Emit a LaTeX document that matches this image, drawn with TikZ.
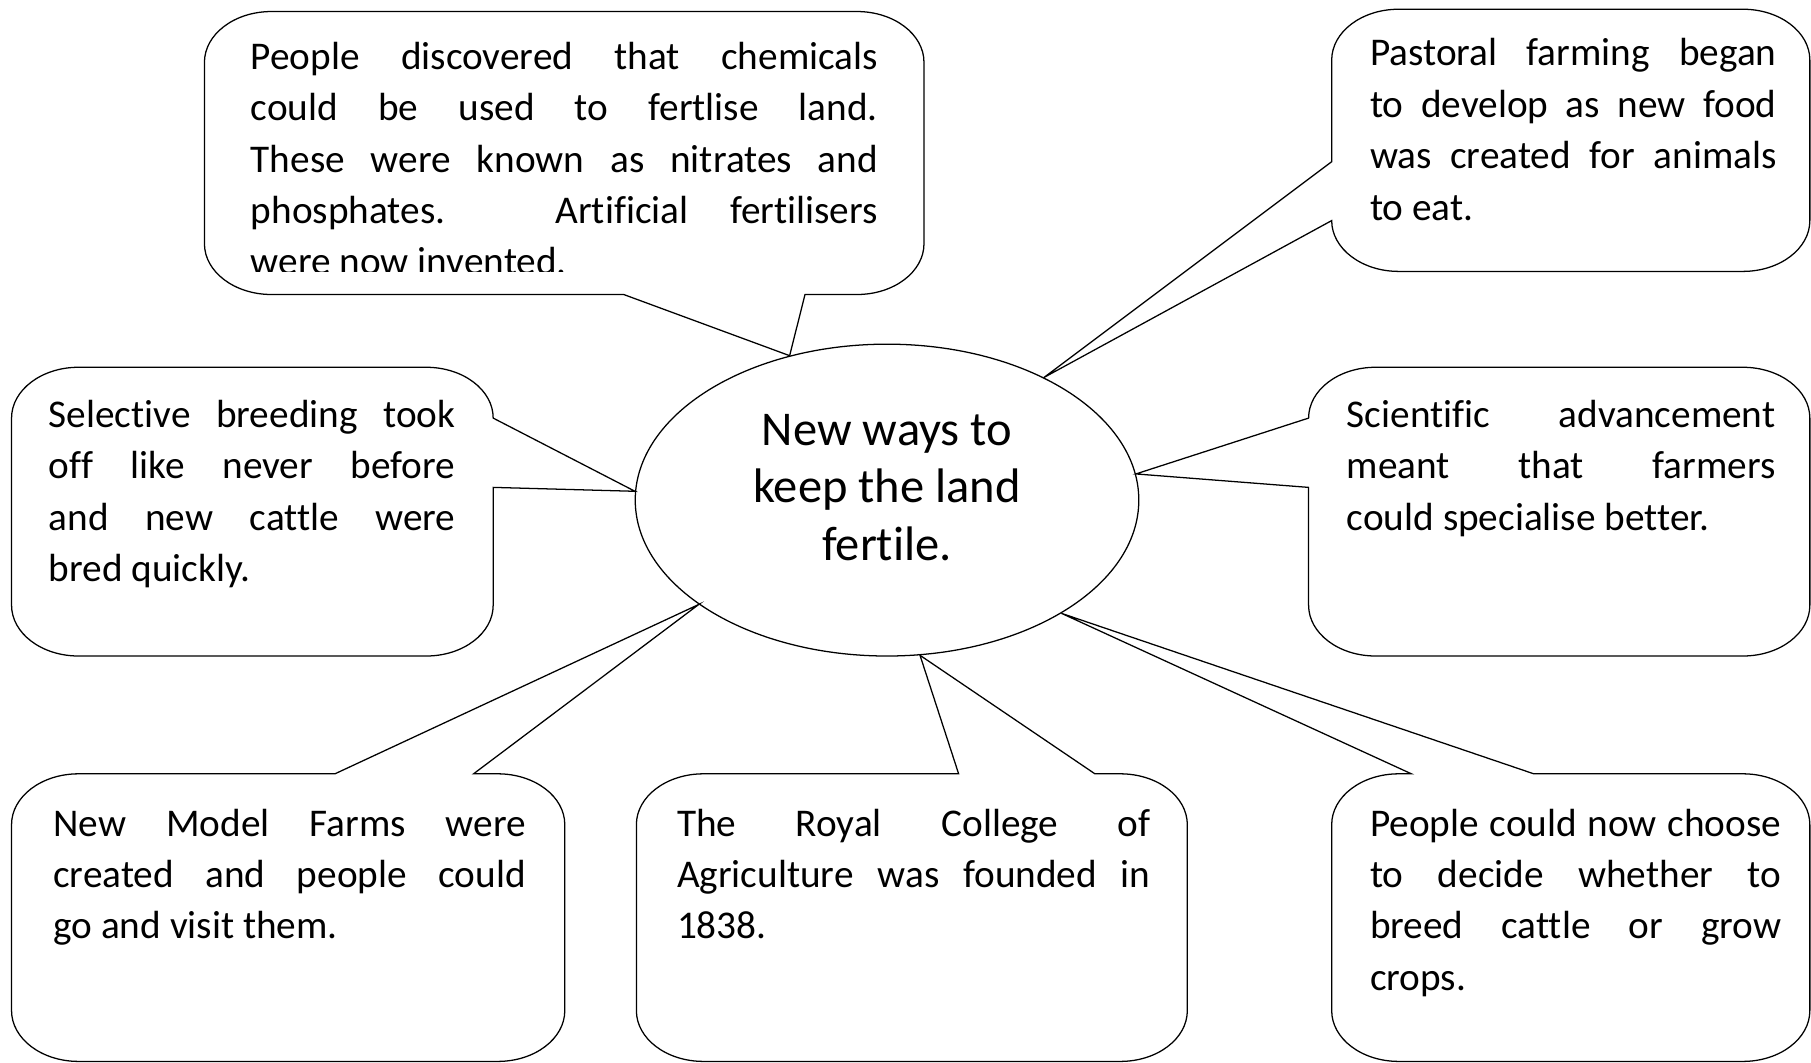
\documentclass[tikz,border=0pt]{standalone}
\usepackage{fontspec}
\usepackage{tikz}
\usetikzlibrary{shapes.geometric, positioning}
\newfontfamily\notefont[Ligatures={NoCommon}]{Carlito}
\tolerance=10000
\hbadness=10000
\tikzstyle{bubble} = [draw=black, line width=1.1pt, x radius=58pt, y radius=44pt]
\tikzstyle{note} = [anchor=base west, inner sep=0pt, align=justify, font=\notefont\fontsize{34}{44.5}\selectfont]
\tikzstyle{topic} = [ellipse, draw=black, line width=1.1pt, minimum width=436pt, minimum height=270pt, inner sep=0pt]
\tikzstyle{topictext} = [align=center, inner sep=0pt, font=\notefont\fontsize{42}{50}\selectfont]

\begin{document}
\begin{tikzpicture}[x=1pt, y=1pt]
    \useasboundingbox (0,0) rectangle (1568,920);

    % centre
    \node (hub) [topic] at (768,487) {};
    \node (title) [topictext] at (768,498) {New ways to\\keep the land\\fertile.};

    % texts
    \begin{scope}
        \clip (180,684.5) rectangle (790,905);
        \node (chem) [note, text width=543pt] at (217,860) {People discovered that chemicals\linebreak could be used to fertlise land.\linebreak These were known as nitrates and\linebreak phosphates. Artificial fertilisers\linebreak were now invented.};
    \end{scope}
    \node (pastoral) [note, text width=352pt] at (1186,863) {Pastoral farming began\linebreak to develop as new food\linebreak was created for animals\linebreak to eat.};
    \node (breeding) [note, text width=352pt] at (42,550) {Selective breeding took\linebreak off like never before\linebreak and new cattle were\linebreak bred quickly.};
    \node (science) [note, text width=371pt] at (1166,550) {Scientific advancement\linebreak meant that farmers\linebreak could specialise better.};
    \node (farms) [note, text width=409pt] at (46,196) {New Model Farms were\linebreak created and people could\linebreak go and visit them.};
    \node (college) [note, text width=410pt] at (586,196) {The Royal College of\linebreak Agriculture was founded in\linebreak 1838.};
    \node (choice) [note, text width=356pt] at (1186,196) {People could now choose\linebreak to decide whether to\linebreak breed cattle or grow\linebreak crops.};

    % callouts
    \draw [bubble] (235,910) -- (742,910) arc[start angle=90, end angle=0] -- (800,709) arc[start angle=0, end angle=-90] -- (697,665) -- (hub.124) -- (540,665) -- (235,665) arc[start angle=270, end angle=180] -- (177,866) arc[start angle=180, end angle=90] -- cycle;
    \draw [bubble] (1211,912) -- (1509,912) arc[start angle=90, end angle=0] -- (1567,729) arc[start angle=0, end angle=-90] -- (1211,685) arc[start angle=270, end angle=180] -- (hub.38) -- (1153,780) -- (1153,868) arc[start angle=180, end angle=90] -- cycle;
    \draw [bubble] (68,602) -- (369,602) arc[start angle=90, end angle=0] -- (hub.178) -- (427,498) -- (427,396) arc[start angle=0, end angle=-90] -- (68,352) arc[start angle=270, end angle=180] -- (10,558) arc[start angle=180, end angle=90] -- cycle;
    \draw [bubble] (1191,602) -- (1509,602) arc[start angle=90, end angle=0] -- (1567,396) arc[start angle=0, end angle=-90] -- (1191,352) arc[start angle=270, end angle=180] -- (1133,498) -- (hub.6) -- (1133,558) arc[start angle=180, end angle=90] -- cycle;
    \draw [bubble] (68,250) -- (290,250) -- (hub.209) -- (410,250) -- (431,250) arc[start angle=90, end angle=0] -- (489,45) arc[start angle=0, end angle=-90] -- (68,1) arc[start angle=270, end angle=180] -- (10,206) arc[start angle=180, end angle=90] -- cycle;
    \draw [bubble] (609,250) -- (830,250) -- (hub.282) -- (948,250) -- (970,250) arc[start angle=90, end angle=0] -- (1028,45) arc[start angle=0, end angle=-90] -- (609,1) arc[start angle=270, end angle=180] -- (551,206) arc[start angle=180, end angle=90] -- cycle;
    \draw [bubble] (1211,250) -- (1222,250) -- (hub.327) -- (1328,250) -- (1509,250) arc[start angle=90, end angle=0] -- (1567,45) arc[start angle=0, end angle=-90] -- (1211,1) arc[start angle=270, end angle=180] -- (1153,206) arc[start angle=180, end angle=90] -- cycle;

\end{tikzpicture}
\end{document}
